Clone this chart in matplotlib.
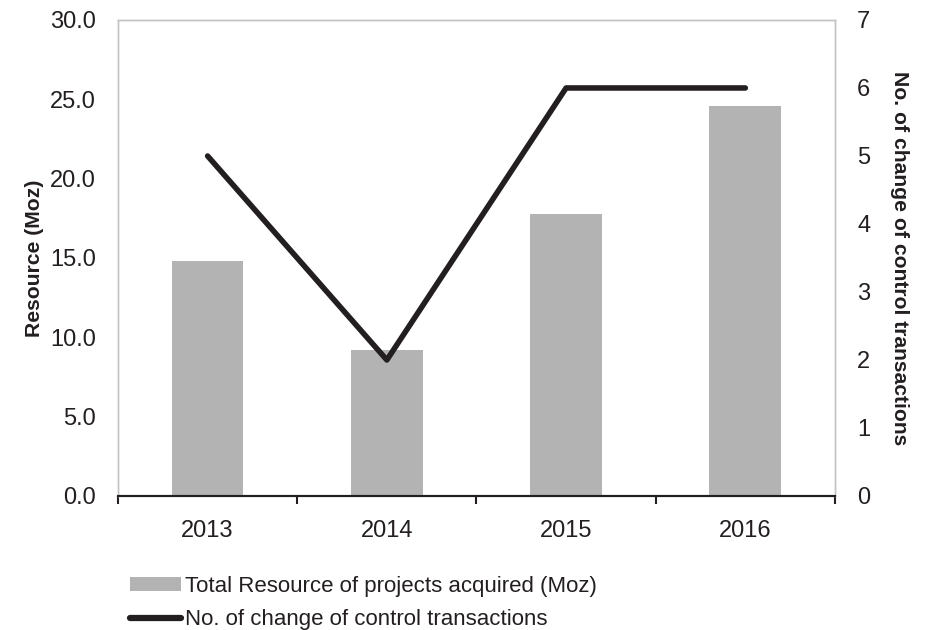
import matplotlib.pyplot as plt
import numpy as np

years = ["2013", "2014", "2015", "2016"]
resource_moz = [14.8, 9.2, 17.8, 24.6]
transactions = [5, 2, 6, 6]

plt.rcParams['font.family'] = ['Liberation Sans', 'DejaVu Sans']

fig = plt.figure(figsize=(9.26, 6.3), dpi=100)
ax = fig.add_axes([0.1274, 0.2127, 0.7743, 0.7556])
ax2 = ax.twinx()

x = np.arange(len(years))
bars = ax.bar(x, resource_moz, width=0.4, color='#b3b3b3',
              label='Total Resource of projects acquired (Moz)', zorder=2)
line, = ax2.plot(x, transactions, color='#231f20', linewidth=4,
                 solid_capstyle='round', label='No. of change of control transactions')

ax.set_xlim(-0.5, 3.5)
ax.set_ylim(0, 30)
ax2.set_ylim(0, 7)
ax.set_yticks(np.arange(0, 30.1, 5))
ax.set_yticklabels([f"{v:.1f}" for v in np.arange(0, 30.1, 5)])
ax2.set_yticks(range(8))

ax.set_xticks(x)
ax.set_xticklabels(years)
ax.set_xticks(np.arange(-0.5, 3.6, 1), minor=True)
ax.tick_params(axis='x', which='major', length=0, pad=17, labelsize=17, colors='#231f20')
ax.tick_params(axis='x', which='minor', length=6, width=1.5, direction='out', color='#231f20')
ax.tick_params(axis='y', length=0, pad=16, labelsize=17, colors='#231f20')
ax2.tick_params(axis='y', length=0, pad=16, labelsize=17, colors='#231f20')

for a in (ax, ax2):
    for s in ('left', 'right', 'top'):
        a.spines[s].set_color('#c4c4c4')
        a.spines[s].set_linewidth(1)
    a.spines['bottom'].set_color('#231f20')
    a.spines['bottom'].set_linewidth(1.5)

ax.set_ylabel('Resource (Moz)', fontsize=15.2, fontweight='bold', labelpad=4, color='#231f20')
ax2.set_ylabel('No. of change of control transactions', fontsize=15.2, fontweight='bold',
               rotation=270, labelpad=28, color='#231f20')

leg = fig.legend(handles=[bars, line], loc='upper left', bbox_to_anchor=(0.131, 0.1),
                 frameon=False, fontsize=16, handlelength=2.3, handleheight=0.6,
                 handletextpad=0.15, labelspacing=0.55, borderaxespad=0,
                 labelcolor='#231f20')
leg.get_lines()[0].set_linewidth(4.5)

fig.savefig('out.png', dpi=100)
